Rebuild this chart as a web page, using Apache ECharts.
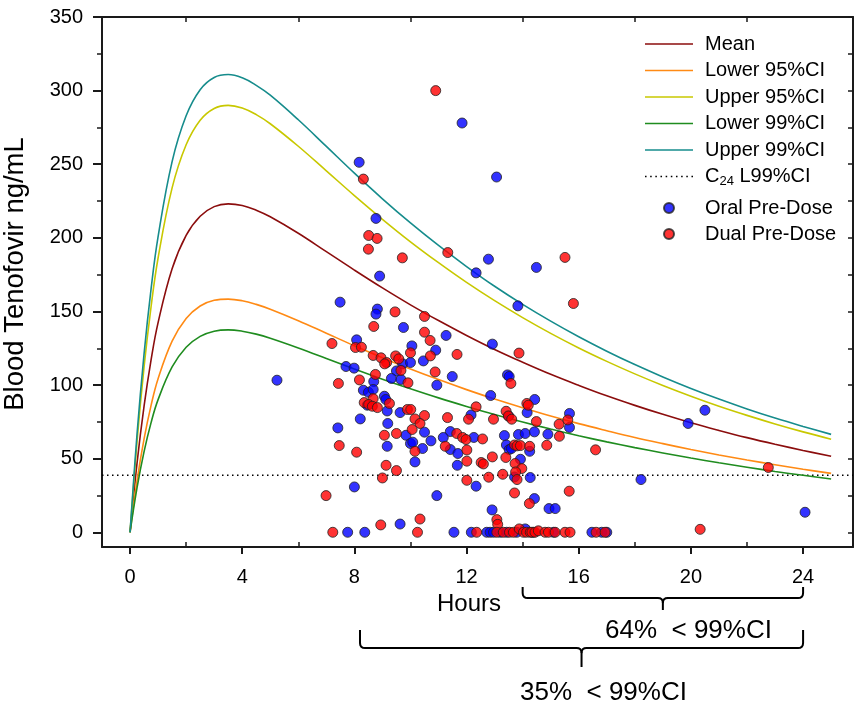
<!DOCTYPE html>
<html>
<head>
<meta charset="utf-8">
<title>Blood Tenofovir</title>
<script src="https://cdn.jsdelivr.net/npm/echarts@6/dist/echarts.min.js"></script>
<style>
html, body { margin: 0; padding: 0; background: #fff; }
#chart { width: 856px; height: 705px; }
</style>
</head>
<body>
<div id="chart"></div>
<script>
// model curves (hours after dose -> ng/mL)
const curveHours = [0, 0.25, 0.5, 0.75, 1, 1.5, 2, 2.5, 3, 3.5, 4, 4.5, 5, 6, 7, 8, 9, 10, 11, 12, 13, 14, 15, 16, 17, 18, 19, 20, 21, 22, 23, 24, 25];
const meanVals = [0, 47.2, 85.7, 117.1, 142.4, 179.0, 201.7, 214.7, 221.2, 223.1, 222.0, 218.8, 214.3, 203.1, 190.6, 178.1, 166.0, 154.5, 143.8, 133.7, 124.2, 115.5, 107.3, 99.8, 92.7, 86.2, 80.1, 74.4, 69.2, 64.3, 59.8, 55.6, 51.6];
const lower95Vals = [0, 35.1, 63.4, 86.2, 104.3, 129.8, 145.2, 153.7, 157.6, 158.4, 157.3, 154.8, 151.5, 143.7, 135.2, 126.7, 118.6, 110.9, 103.7, 96.9, 90.5, 84.6, 79.0, 73.8, 69.0, 64.4, 60.2, 56.2, 52.5, 49.1, 45.9, 42.8, 40.0];
const upper95Vals = [0, 61.8, 112.3, 153.2, 186.3, 233.9, 263.2, 279.9, 287.9, 290.0, 288.2, 283.7, 277.5, 262.2, 245.5, 228.7, 212.6, 197.3, 183.1, 169.7, 157.3, 145.8, 135.1, 125.2, 116.1, 107.6, 99.7, 92.4, 85.6, 79.4, 73.6, 68.2, 63.2];
const lower99Vals = [0, 30.3, 54.8, 74.5, 90.1, 112.3, 125.7, 133.1, 136.6, 137.5, 136.6, 134.6, 131.8, 125.2, 118.1, 110.9, 104.0, 97.5, 91.3, 85.5, 80.0, 74.9, 70.1, 65.6, 61.4, 57.5, 53.9, 50.4, 47.2, 44.2, 41.3, 38.7, 36.2];
const upper99Vals = [0, 66.8, 121.2, 165.3, 200.8, 251.8, 282.9, 300.6, 308.9, 310.9, 308.7, 303.6, 296.9, 280.2, 262.1, 243.9, 226.5, 210.1, 194.8, 180.5, 167.1, 154.8, 143.4, 132.8, 123.0, 113.9, 105.5, 97.7, 90.5, 83.8, 77.6, 71.9, 66.5];

// C24 lower 99% CI threshold
const c24Level = 38.7;

// pre-dose samples [hours, ng/mL]
const oralPoints = [
  [5.24, 103.3], [11.84, 278], [13.07, 241.3], [12.78, 185.5], [12.34, 176.2], [14.49, 179.9], [13.83, 153.8],
  [8.17, 251.3], [8.77, 213.2], [8.9, 174.0], [7.49, 156.3], [8.82, 151.6], [8.77, 148.2], [9.75, 139.1],
  [11.27, 133.7], [8.08, 130.7], [10.05, 126.6], [10.9, 123.7], [12.92, 127.8], [9.72, 114.4], [10.0, 115.3],
  [10.46, 116.4], [7.7, 112.6], [7.99, 111.5], [9.5, 109.6], [11.49, 105.8], [13.46, 106.9], [13.52, 105.8],
  [8.69, 102.4], [9.32, 104.5], [9.66, 103.8], [10.94, 99.9], [8.32, 96.5], [8.5, 95.1], [8.67, 97.0],
  [12.86, 92.9], [14.43, 90.2], [9.07, 92.4], [9.12, 90.2], [8.46, 86.3], [9.17, 82.4], [9.63, 81.3],
  [8.21, 77.0], [9.19, 73.9], [12.16, 79.7], [13.5, 79.0], [14.16, 81.3], [15.67, 80.7], [15.67, 71.2],
  [7.41, 70.9], [9.17, 58.4], [9.84, 65.9], [10.5, 68.0], [10.0, 60.3], [10.08, 61.2], [10.43, 56.9],
  [10.73, 62.1], [10.16, 47.8], [8.0, 30.8], [10.94, 24.9], [9.63, 5.6], [11.42, 68.4], [11.17, 64.4],
  [12.26, 64.4], [11.42, 56.2], [11.69, 53.5], [11.67, 45.5], [12.34, 31.3], [13.35, 65.7], [13.42, 59.3],
  [13.52, 56.2], [13.6, 56.9], [13.85, 66.4], [14.09, 67.1], [14.42, 68.2], [14.9, 66.6], [14.25, 55.0],
  [13.92, 49.6], [13.71, 37.6], [14.27, 37.2], [14.42, 22.9], [14.94, 16.1], [15.16, 16.1], [12.91, 15.2],
  [19.9, 73.9], [20.5, 82.9], [18.22, 35.8], [24.07, 13.6],
  [7.76, 0], [8.37, 0], [11.55, 0], [12.17, 0], [12.72, 0], [12.84, 0], [12.96, 0], [13.2, 0], [13.43, 0],
  [13.79, 0], [14.09, 2.3], [14.38, 0], [15.1, 0], [16.47, 0], [16.82, 0], [17.0, 0]
];
const dualPoints = [
  [10.9, 300], [11.33, 190], [15.51, 186.7], [15.81, 155.4], [8.32, 239.9], [8.51, 201.6], [8.81, 199.6],
  [8.5, 192.3], [9.71, 186.4], [9.45, 149.7], [10.5, 146.6], [8.69, 139.8], [10.5, 135.9], [10.7, 130.3],
  [7.2, 128.2], [8.04, 125.5], [8.25, 125.7], [10.0, 121.9], [11.66, 120.8], [13.87, 121.7], [8.67, 120.1],
  [8.95, 118.5], [9.15, 115.3], [9.08, 114.4], [9.47, 119.8], [9.58, 117.8], [10.71, 119.8], [8.75, 107.2],
  [9.66, 109.9], [10.88, 108.9], [13.58, 101.1], [7.43, 101.1], [8.18, 103.5], [9.91, 101.5], [8.67, 90.8],
  [8.35, 88.1], [8.51, 86.8], [8.64, 85.6], [8.82, 84.7], [9.25, 87.5], [9.89, 83.4], [10.01, 83.4],
  [10.5, 79.3], [10.16, 77.0], [10.34, 73.9], [11.32, 77.9], [12.07, 76.8], [12.34, 85.2], [12.96, 76.8],
  [13.41, 82.2], [13.49, 79.0], [13.61, 76.8], [14.15, 87.5], [14.2, 86.3], [14.49, 75.2], [15.3, 73.4],
  [15.61, 76.3], [7.46, 58.9], [8.08, 54.4], [9.07, 65.9], [9.5, 67.1], [10.06, 69.8], [10.16, 55.0],
  [9.13, 45.5], [9.5, 41.9], [9.0, 36.9], [6.99, 24.9], [8.94, 5.0], [10.34, 9.0], [11.65, 67.1],
  [11.86, 64.4], [11.98, 63.0], [12.57, 63.4], [11.24, 58.4], [12.01, 55.9], [12.01, 48.3], [12.52, 47.4],
  [12.6, 46.4], [12.92, 51.2], [12.79, 37.4], [12.01, 35.3], [13.29, 39.4], [13.4, 50.8], [13.71, 59.3],
  [13.8, 58.7], [13.92, 58.9], [14.25, 58.4], [14.86, 59.1], [15.31, 65.2], [13.73, 46.7], [13.97, 43.3],
  [13.75, 41.0], [13.8, 35.8], [13.71, 26.7], [14.24, 19.5], [15.66, 27.9], [13.08, 8.6], [13.11, 5.4],
  [16.6, 56.0], [22.76, 44.0], [20.33, 2.0],
  [7.23, 0], [10.25, 0], [12.36, 0], [13.08, 0], [13.31, 0], [13.53, 0], [13.67, 0], [13.88, 2.3],
  [14.03, 0], [14.14, 0], [14.27, 0], [14.33, 0], [14.44, 0], [14.56, 1.0], [14.8, 0], [14.92, 0],
  [15.16, 0], [15.51, 0], [15.69, 0], [16.62, 0], [16.94, 0]
];

// tick positions
const xMajorTicks = [0, 4, 8, 12, 16, 20, 24];
const xMinorTicks = [2, 6, 10, 14, 18, 22];
const yMajorTicks = [0, 50, 100, 150, 200, 250, 300, 350];
const yMinorTicks = [25, 75, 125, 175, 225, 275, 325];
const yRightTicks = [0, 25, 50, 75, 100, 125, 150, 175, 200, 225, 250, 275, 300, 325, 350];

// brackets under the axis: [from hour, to hour], and their labels
const braceRanges = [[14, 24], [8.2, 24]];
const braceLabels = ['64%  < 99%CI', '35%  < 99%CI'];

const font = 'Liberation Sans, Arial, sans-serif';
const ink = '#1a1a1a';
const xMin = -1, xMax = 25.78, yMin = -10, yMax = 350;

// legend icons: a solid bar, and a row of dots
const lineIcon = 'path://M0,0 H48 V1.6 H0 Z';
let dotIcon = 'path://';
for (let i = 0; i < 10; i++) {
  dotIcon += 'M' + (i * 5) + ',0 h1.5 v1.5 h-1.5 Z ';
}

function pairs(xs, ys) {
  return xs.map((x, i) => [x, ys[i]]);
}

function curve(name, vals, color) {
  return {
    name: name,
    type: 'line',
    data: pairs(curveHours, vals),
    symbol: 'none',
    smooth: 0.4,
    color: color,
    lineStyle: { color: color, width: 1.6 },
    z: 2
  };
}

function dots(name, pts, color) {
  return {
    name: name,
    type: 'scatter',
    data: pts,
    symbol: 'circle',
    symbolSize: 10,
    itemStyle: { color: color, borderColor: '#222', borderWidth: 1 },
    z: 3
  };
}

const legendText = {
  fontFamily: font,
  fontSize: 20,
  color: '#000',
  padding: [0, 0, 0, 7],
  rich: {
    m: { fontFamily: font, fontSize: 20, color: '#000' },
    s: { fontFamily: font, fontSize: 13, color: '#000', padding: [10, 0, 0, 0] }
  }
};

const chart = echarts.init(document.getElementById('chart'));

const option = {
  animation: false,
  backgroundColor: '#fff',
  textStyle: { fontFamily: font },
  grid: { left: 102, right: 3, top: 17, bottom: 158, outerBoundsMode: 'none' },
  legend: [
    {
      orient: 'vertical',
      left: 645,
      top: 34,
      padding: 0,
      itemWidth: 48,
      itemHeight: 10,
      itemGap: 6.5,
      data: [
        { name: 'Mean', icon: lineIcon },
        { name: 'Lower 95%CI', icon: lineIcon },
        { name: 'Upper 95%CI', icon: lineIcon },
        { name: 'Lower 99%CI', icon: lineIcon },
        { name: 'Upper 99%CI', icon: lineIcon },
        { name: 'C24 L99%CI', icon: dotIcon }
      ],
      formatter: function (name) {
        if (name === 'C24 L99%CI') return '{m|C}{s|24}{m| L99%CI}';
        return name;
      },
      textStyle: legendText
    },
    {
      orient: 'vertical',
      left: 663,
      top: 198,
      padding: 0,
      itemWidth: 48,
      itemHeight: 10,
      itemGap: 6,
      data: ['Oral Pre-Dose', 'Dual Pre-Dose'],
      textStyle: legendText
    }
  ],
  xAxis: [
    {
      type: 'value', position: 'bottom', min: xMin, max: xMax,
      axisLine: { show: true, onZero: false, lineStyle: { color: ink, width: 2 } },
      axisTick: { show: true, customValues: xMajorTicks, length: 7, lineStyle: { color: ink, width: 2 } },
      axisLabel: { customValues: xMajorTicks, fontSize: 20, color: '#000', margin: 20, fontFamily: font },
      splitLine: { show: false },
      name: 'Hours', nameLocation: 'middle', nameGap: 35,
      nameTextStyle: { fontSize: 24, color: '#000', fontFamily: font, padding: [0, 17, 0, 0] }
    },
    {
      type: 'value', position: 'bottom', min: xMin, max: xMax,
      axisLine: { show: false, onZero: false },
      axisTick: { show: true, inside: true, customValues: xMinorTicks, length: 5, lineStyle: { color: ink, width: 1.5 } },
      axisLabel: { show: false },
      splitLine: { show: false }
    },
    {
      type: 'value', position: 'top', min: xMin, max: xMax,
      axisLine: { show: true, onZero: false, lineStyle: { color: ink, width: 2 } },
      axisTick: { show: true, inside: true, customValues: xMinorTicks, length: 5, lineStyle: { color: ink, width: 1.5 } },
      axisLabel: { show: false },
      splitLine: { show: false }
    }
  ],
  yAxis: [
    {
      type: 'value', position: 'left', min: yMin, max: yMax,
      axisLine: { show: true, onZero: false, lineStyle: { color: ink, width: 2 } },
      axisTick: { show: true, customValues: yMajorTicks, length: 9, lineStyle: { color: ink, width: 2 } },
      axisLabel: { customValues: yMajorTicks, fontSize: 20, color: '#000', margin: 19, fontFamily: font },
      splitLine: { show: false },
      name: 'Blood Tenofovir ng/mL', nameLocation: 'middle', nameGap: 73,
      nameTextStyle: { fontSize: 27.5, color: '#000', fontFamily: font, padding: [0, 0, 0, 16] }
    },
    {
      type: 'value', position: 'left', min: yMin, max: yMax,
      axisLine: { show: false, onZero: false },
      axisTick: { show: true, customValues: yMinorTicks, length: 5, lineStyle: { color: ink, width: 1.5 } },
      axisLabel: { show: false },
      splitLine: { show: false }
    },
    {
      type: 'value', position: 'right', min: yMin, max: yMax,
      axisLine: { show: true, onZero: false, lineStyle: { color: ink, width: 2 } },
      axisTick: { show: true, inside: true, customValues: yRightTicks, length: 5, lineStyle: { color: ink, width: 1.5 } },
      axisLabel: { show: false },
      splitLine: { show: false }
    }
  ],
  series: [
    curve('Mean', meanVals, '#8b0d0d'),
    curve('Lower 95%CI', lower95Vals, '#ff8a14'),
    curve('Upper 95%CI', upper95Vals, '#c8c800'),
    curve('Lower 99%CI', lower99Vals, '#1f8c1f'),
    curve('Upper 99%CI', upper99Vals, '#168c8c'),
    {
      name: 'C24 L99%CI',
      type: 'line',
      data: [[xMin, c24Level], [xMax, c24Level]],
      symbol: 'none',
      color: '#000',
      lineStyle: { color: '#000', width: 1.5, type: [1.5, 3.5] },
      z: 1
    },
    dots('Oral Pre-Dose', oralPoints, '#0000ff'),
    dots('Dual Pre-Dose', dualPoints, '#ff0000')
  ]
};

chart.setOption(option);

// curly brackets and their percentages under the x axis
function corner(p0, p1, p2) {
  const out = [];
  for (let k = 1; k <= 4; k++) {
    const t = k / 4;
    out.push([
      (1 - t) * (1 - t) * p0[0] + 2 * (1 - t) * t * p1[0] + t * t * p2[0],
      (1 - t) * (1 - t) * p0[1] + 2 * (1 - t) * t * p1[1] + t * t * p2[1]
    ]);
  }
  return out;
}

function braceHalf(xe, xm, y0, yh, yt, dir) {
  const r = 5;
  let pts = [[xe, y0], [xe, yh - r]];
  pts = pts.concat(corner([xe, yh - r], [xe, yh], [xe + dir * r, yh]));
  pts.push([xm - dir * r, yh]);
  pts = pts.concat(corner([xm - dir * r, yh], [xm, yh], [xm, yh + r]));
  if (yt) pts.push([xm, yt]);
  return pts;
}

const braceRows = [
  { top: 587, mid: 598, tip: 610, textX: 605, textY: 631 },
  { top: 630, mid: 648, tip: 667, textX: 520, textY: 693 }
];

const graphics = [];
braceRanges.forEach(function (r, i) {
  const x1 = chart.convertToPixel({ xAxisIndex: 0 }, r[0]);
  const x2 = chart.convertToPixel({ xAxisIndex: 0 }, r[1]);
  const xm = (x1 + x2) / 2;
  const row = braceRows[i];
  [braceHalf(x1, xm, row.top, row.mid, row.tip, 1), braceHalf(x2, xm, row.top, row.mid, null, -1)].forEach(function (pts) {
    graphics.push({
      type: 'polyline',
      shape: { points: pts },
      style: { stroke: '#000', lineWidth: 2, fill: null }
    });
  });
  graphics.push({
    type: 'text',
    x: row.textX,
    y: row.textY,
    style: {
      text: braceLabels[i],
      fontSize: 26,
      fontFamily: font,
      fill: '#000',
      textAlign: 'left',
      textVerticalAlign: 'middle'
    }
  });
});
chart.setOption({ graphic: graphics });
</script>
</body>
</html>
